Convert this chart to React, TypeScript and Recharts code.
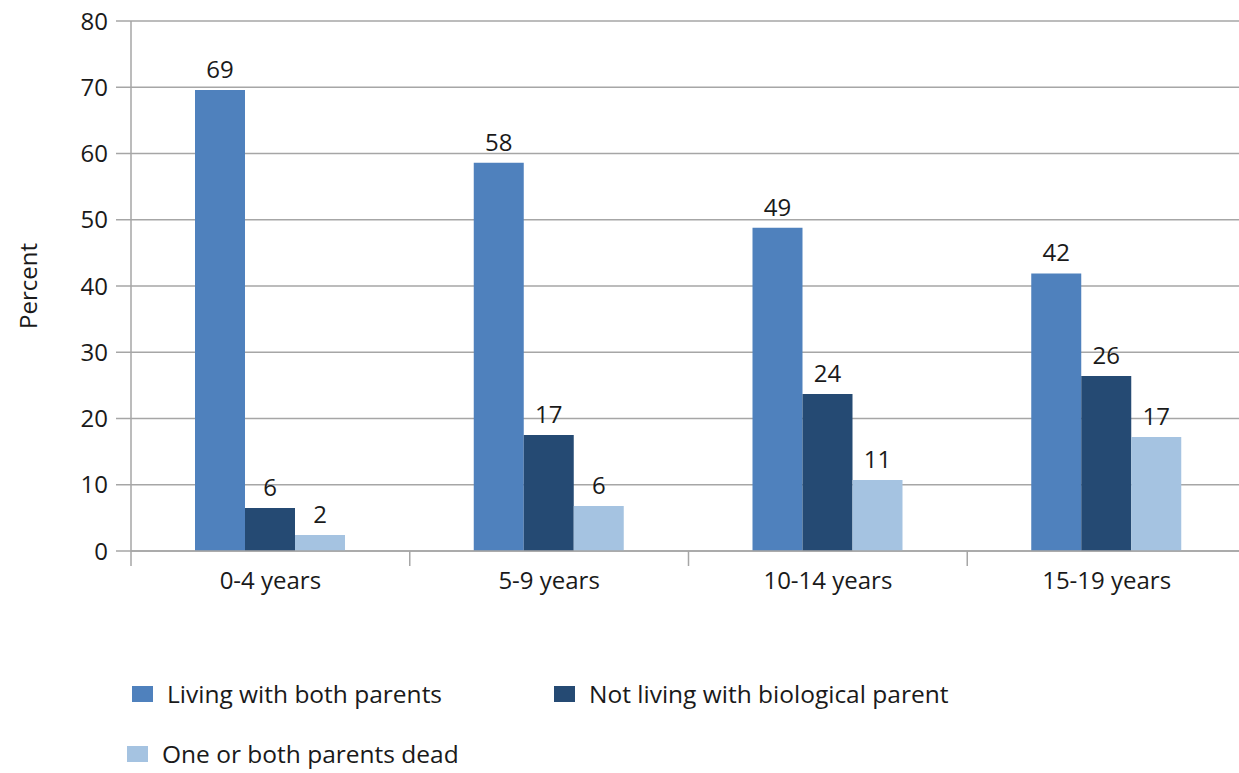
import React from "react";
import { Bar, BarChart, CartesianGrid, LabelList, Legend, XAxis, YAxis } from "recharts";

const ageGroups = ["0-4 years", "5-9 years", "10-14 years", "15-19 years"];
const bothParents = [69.6, 58.6, 48.8, 41.9];
const notBiological = [6.5, 17.5, 23.7, 26.4];
const parentsDead = [2.4, 6.8, 10.7, 17.2];
const bothLabels = ["69", "58", "49", "42"];
const notBioLabels = ["6", "17", "24", "26"];
const deadLabels = ["2", "6", "11", "17"];
const yTicks = [0, 10, 20, 30, 40, 50, 60, 70, 80];

const seriesNames = ["Living with both parents", "Not living with biological parent", "One or both parents dead"];
const colors = ["#4f81bd", "#254a73", "#a5c3e1"];

const data = ageGroups.map((age, i) => ({
  age,
  both: bothParents[i],
  notBio: notBiological[i],
  dead: parentsDead[i],
  bothLabel: bothLabels[i],
  notBioLabel: notBioLabels[i],
  deadLabel: deadLabels[i],
}));

const CHART_W = 1240;
const CHART_H = 765;
const Y_AXIS_W = 123;
const RIGHT = 2;
const BAND = (CHART_W - Y_AXIS_W - RIGHT) / ageGroups.length;
const GRID = "#a6a6a6";
const TEXT = "#1a1a1a";
const FS = 24;

function AgeTick(props: any) {
  const { x, y, payload } = props;
  const left = x - BAND / 2;
  return (
    <g>
      <line x1={left} y1={y} x2={left} y2={y + 15} stroke={GRID} strokeWidth={1.5} />
      <text x={x} y={y + 28} textAnchor="middle" dominantBaseline="central" fill={TEXT} fontSize={FS}>
        {payload.value}
      </text>
    </g>
  );
}

function LegendBox() {
  const items = [
    { name: seriesNames[0], color: colors[0], left: 124, top: 39 },
    { name: seriesNames[1], color: colors[1], left: 546, top: 39 },
    { name: seriesNames[2], color: colors[2], left: 119, top: 99 },
  ];
  return (
    <div style={{ position: "relative", width: CHART_W, height: 118 }}>
      {items.map((it) => (
        <div
          key={it.name}
          style={{
            position: "absolute",
            left: it.left,
            top: it.top,
            transform: "translateY(-50%)",
            display: "flex",
            alignItems: "center",
            fontSize: 24.5,
            lineHeight: "30px",
            color: TEXT,
            whiteSpace: "nowrap",
          }}
        >
          <span style={{ display: "inline-block", width: 21, height: 16, background: it.color, marginRight: 14 }} />
          {it.name}
        </div>
      ))}
    </div>
  );
}

export default function App() {
  return (
    <div
      style={{
        position: "fixed",
        left: 0,
        top: 0,
        width: 1239,
        height: 773,
        overflow: "hidden",
        background: "#fff",
        fontFamily: "'Open Sans', sans-serif",
      }}
    >
      <div style={{ position: "absolute", left: 8, top: 8 }}>
        <BarChart
          width={CHART_W}
          height={CHART_H}
          data={data}
          margin={{ top: 13, right: RIGHT, bottom: 0, left: 0 }}
          barGap={0}
          barSize={50}
        >
          <CartesianGrid vertical={false} stroke={GRID} strokeWidth={1.5} />
          <XAxis
            dataKey="age"
            height={104}
            tickLine={false}
            tickSize={0}
            tickMargin={0}
            axisLine={{ stroke: GRID, strokeWidth: 1.5 }}
            tick={<AgeTick />}
            interval={0}
          />
          <YAxis
            width={Y_AXIS_W}
            domain={[0, 80]}
            ticks={yTicks}
            interval={0}
            tickSize={15}
            tickMargin={8}
            tickLine={{ stroke: GRID, strokeWidth: 1.5 }}
            axisLine={{ stroke: GRID, strokeWidth: 1.5 }}
            tick={{ fill: TEXT, fontSize: FS }}
            label={{ value: "Percent", angle: -90, position: "center", dx: -41, fill: TEXT, fontSize: FS }}
          />
          <Legend verticalAlign="bottom" content={<LegendBox />} wrapperStyle={{ left: 0, width: CHART_W }} />
          <Bar dataKey="both" name={seriesNames[0]} fill={colors[0]} isAnimationActive={false}>
            <LabelList dataKey="bothLabel" position="top" offset={12} fill={TEXT} fontSize={FS} />
          </Bar>
          <Bar dataKey="notBio" name={seriesNames[1]} fill={colors[1]} isAnimationActive={false}>
            <LabelList dataKey="notBioLabel" position="top" offset={12} fill={TEXT} fontSize={FS} />
          </Bar>
          <Bar dataKey="dead" name={seriesNames[2]} fill={colors[2]} isAnimationActive={false}>
            <LabelList dataKey="deadLabel" position="top" offset={12} fill={TEXT} fontSize={FS} />
          </Bar>
        </BarChart>
      </div>
    </div>
  );
}
